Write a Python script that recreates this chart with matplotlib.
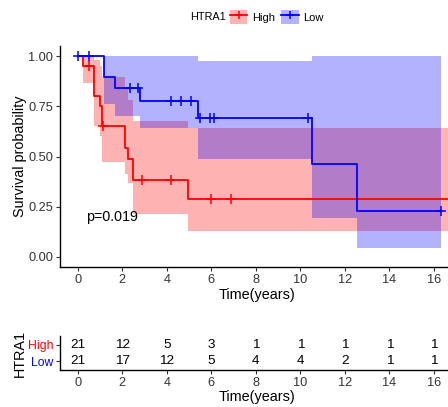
import numpy as np
import matplotlib
matplotlib.use("Agg")
import matplotlib.pyplot as plt
from matplotlib.patches import Patch
from matplotlib.lines import Line2D

plt.rcParams['font.family'] = ['Liberation Sans', 'DejaVu Sans']

# Kaplan-Meier curves (step 'post')
high_time = [0, 0.22, 0.75, 1.0, 1.1, 2.12, 2.27, 2.5, 4.94, 17.2]
high_surv = [1.0, 0.952, 0.803, 0.752, 0.652, 0.543, 0.489, 0.382, 0.286, 0.286]
high_upper = [1.0, 1.0, 0.98, 0.95, 0.898, 0.84, 0.78, 0.677, 0.64, 0.64]
high_lower = [1.0, 0.868, 0.652, 0.60, 0.474, 0.415, 0.366, 0.216, 0.128, 0.128]
high_censor = [0.52, 1.15, 2.87, 4.19, 5.97, 6.87]

low_time = [0, 1.2, 1.68, 2.8, 5.38, 10.53, 12.56, 16.3]
low_surv = [1.0, 0.895, 0.843, 0.778, 0.693, 0.462, 0.229, 0.229]
low_upper = [1.0, 1.0, 1.0, 1.0, 0.973, 1.0, 1.0, 1.0]
low_lower = [1.0, 0.76, 0.70, 0.64, 0.49, 0.196, 0.047, 0.047]
low_censor = [0.0, 0.52, 2.35, 2.69, 4.19, 4.64, 5.09, 5.49, 5.94, 6.12, 10.34, 16.3]

risk_times = [0, 2, 4, 6, 8, 10, 12, 14, 16]
risk_high = [21, 12, 5, 3, 1, 1, 1, 1, 1]
risk_low = [21, 17, 12, 5, 4, 4, 2, 1, 1]

groups = ["High", "Low"]
colors = {"High": "#FF0000", "Low": "#0000FF"}
p_text = "p=0.019"

curves = {
    "High": (high_time, high_surv, high_upper, high_lower, high_censor),
    "Low": (low_time, low_surv, low_upper, low_lower, low_censor),
}

W, H = 448, 407
fig = plt.figure(figsize=(W / 100, H / 100), dpi=100)

xmin, xmax = -0.795, 16.87
panel_w = 393.4

ax = fig.add_axes([60 / W, 1 - 267 / H, panel_w / W, 221 / H])
tab = fig.add_axes([60 / W, 1 - 370 / H, panel_w / W, 34 / H])

for g in groups:
    t, s, up, lo, cens = curves[g]
    ax.fill_between(t, lo, up, step="post", color=colors[g], alpha=0.3, linewidth=0)
for g in groups:
    t, s, up, lo, cens = curves[g]
    ax.step(t, s, where="post", color=colors[g], linewidth=1.3)
    t_arr = np.array(t)
    idx = np.searchsorted(t_arr, cens, side="right") - 1
    ax.plot(cens, np.array(s)[idx], linestyle="none", marker="+",
            color=colors[g], markersize=6.5, markeredgewidth=1.1)

ax.text(0.37, 0.2, p_text, fontsize=10.3, ha="left", va="center")

for a in (ax, tab):
    a.set_xlim(xmin, xmax)
    a.set_xticks(risk_times)
    a.spines["top"].set_visible(False)
    a.spines["right"].set_visible(False)
    a.spines["left"].set_linewidth(1.0)
    a.spines["bottom"].set_linewidth(1.0)
    a.tick_params(length=3, width=0.8, pad=2, labelsize=9.2, colors="#333333")
    a.set_xlabel("Time(years)", fontsize=10.4)

ax.set_ylim(-0.05, 1.05)
ax.set_yticks([0, 0.25, 0.5, 0.75, 1.0])
ax.set_yticklabels(["0.00", "0.25", "0.50", "0.75", "1.00"])
ax.set_ylabel("Survival probability", fontsize=10.4)
ax.yaxis.set_label_coords(-0.083, 0.5)
ax.xaxis.set_label_coords(0.5, -0.095)

# risk table
rows = {"High": (2, risk_high), "Low": (1, risk_low)}
for g in groups:
    yy, vals = rows[g]
    for tt, v in zip(risk_times, vals):
        tab.text(tt, yy, str(v), ha="center", va="center", fontsize=9.7)
tab.set_ylim(0.45, 2.55)
tab.set_yticks([rows[g][0] for g in groups])
tab.set_yticklabels(groups, fontsize=8.8)
for lbl, g in zip(tab.get_yticklabels(), groups):
    lbl.set_color(colors[g])
tab.set_ylabel("HTRA1", fontsize=10.4)
tab.yaxis.set_label_coords(-0.083, 0.5)
tab.xaxis.set_label_coords(0.5, -0.6)

# legend
fig.text(190 / W, 1 - 17 / H, "HTRA1", fontsize=7.8, ha="left", va="center")
handles = [(Patch(facecolor=colors[g], alpha=0.3, edgecolor="none"),
            Line2D([], [], color=colors[g], linewidth=1.3, marker="+",
                   markersize=6, markeredgewidth=1.1)) for g in groups]
fig.legend(handles, groups, loc="center left", bbox_to_anchor=(230 / W, 1 - 17 / H),
           ncol=2, frameon=False, fontsize=8, handlelength=1.55, handleheight=1.55,
           handletextpad=0.45, columnspacing=0.55, borderaxespad=0, borderpad=0)

fig.savefig("out.png", dpi=100)
